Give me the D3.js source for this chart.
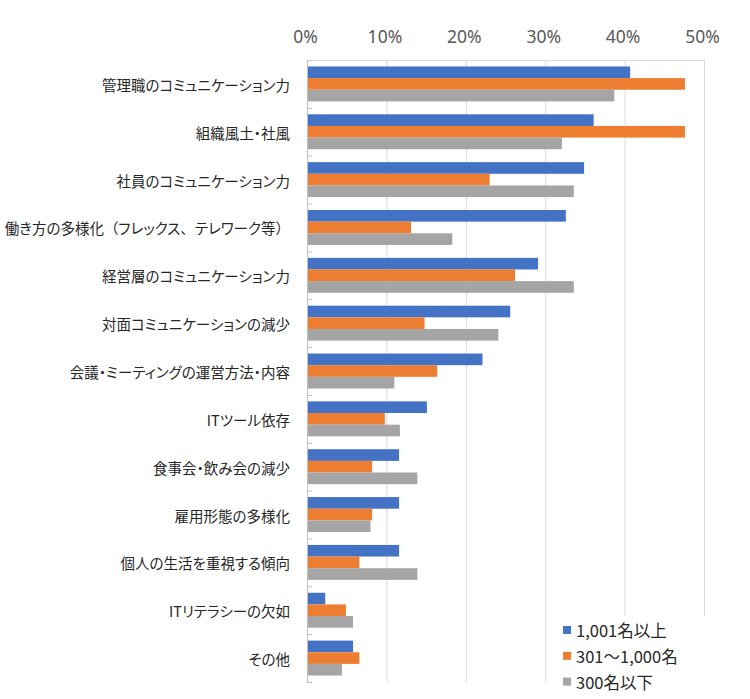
<!DOCTYPE html>
<html><head><meta charset="utf-8">
<script src="https://cdn.jsdelivr.net/npm/d3@7"></script>
<style>
html,body{margin:0;padding:0;background:#fff;}
text{font-family:"Noto Sans CJK JP","Noto Sans",sans-serif;font-feature-settings:"palt";}
tspan.wide{font-feature-settings:normal;}
</style></head>
<body><svg id="chart" width="750" height="699"></svg>
<script>
const categories = ["管理職のコミュニケーション力","組織風土・社風","社員のコミュニケーション力","働き方の多様化（フレックス、テレワーク等）","経営層のコミュニケーション力","対面コミュニケーションの減少","会議・ミーティングの運営方法・内容","ITツール依存","食事会・飲み会の減少","雇用形態の多様化","個人の生活を重視する傾向","ITリテラシーの欠如","その他"];
const seriesNames = ["1,001名以上","301～1,000名","300名以下"];
const large  = [40.7,36.1,34.9,32.6,29.1,25.6,22.1,15.1,11.6,11.6,11.6,2.3,5.8];
const medium = [47.6,47.6,23.0,13.1,26.2,14.8,16.4,9.8,8.2,8.2,6.6,4.9,6.6];
const small  = [38.7,32.1,33.6,18.3,33.6,24.1,11.0,11.7,13.9,8.0,13.9,5.8,4.4];
const seriesValues = [large, medium, small];
const colors = ["#4472C4","#ED7D31","#A5A5A5"];
const xTicks = [0,10,20,30,40,50];

(function(){
const svg = d3.select("#chart");
const pL = 307, pR = 704, pT = 60, pB = 682;
const x = d3.scaleLinear().domain([0,50]).range([pL,pR]);
const y = d3.scaleBand().domain(categories).range([pT,pB]).paddingInner(0.27).paddingOuter(0.135);
const ys = d3.scaleBand().domain(d3.range(3)).range([0,y.bandwidth()]);
const step = y.step();

svg.append("g").selectAll("line").data(xTicks.slice(1)).join("line")
  .attr("x1",d=>x(d)+0.5).attr("x2",d=>x(d)+0.5).attr("y1",pT).attr("y2",pB)
  .attr("stroke","#D9D9D9").attr("stroke-width",1);
svg.append("line").attr("x1",pL).attr("x2",pR).attr("y1",pT+0.5).attr("y2",pT+0.5).attr("stroke","#D9D9D9");

const xAxis = d3.axisTop(x).tickValues(xTicks).tickFormat(d=>d+"%").tickSize(0).tickPadding(0);
const ga = svg.append("g").attr("transform",`translate(-2,${pT-17})`).call(xAxis);
ga.select(".domain").remove();
ga.selectAll("text").attr("fill","#595959").style("font-size","17.5px").style("font-family","'Noto Sans','DejaVu Sans',sans-serif");

const groups = svg.append("g").selectAll("g").data(seriesValues).join("g").attr("fill",(d,i)=>colors[i]);
groups.each(function(vals, si){
  d3.select(this).selectAll("rect").data(vals).join("rect")
    .attr("x",pL)
    .attr("y",(v,ci)=>y(categories[ci])+ys(si))
    .attr("width",v=>x(v)-pL)
    .attr("height",ys.bandwidth());
});

svg.append("line").attr("x1",pL+0.5).attr("x2",pL+0.5).attr("y1",pT).attr("y2",pB).attr("stroke","#BFBFBF");
svg.append("g").selectAll("line").data(d3.range(categories.length+1)).join("line")
  .attr("x1",pL).attr("x2",pL+5)
  .attr("y1",i=>pT+i*step+0.5).attr("y2",i=>pT+i*step+0.5)
  .attr("stroke","#BFBFBF");

const labels = svg.append("g").selectAll("text").data(categories).join("text")
  .attr("x",290).attr("y",d=>y(d)+y.bandwidth()/2)
  .attr("text-anchor","end").attr("dominant-baseline","central")
  .attr("fill","#262626").style("font-size","14.5px");
labels.each(function(d){
  const parts = d.split(/([（）、])/).filter(s=>s.length);
  d3.select(this).selectAll("tspan").data(parts).join("tspan")
    .attr("class",s=>/^[（）、]$/.test(s)?"wide":null).text(s=>s);
});

const lg = svg.append("g");
lg.append("rect").attr("x",552).attr("y",616).attr("width",170).attr("height",80).attr("fill","#fff");
const li = lg.selectAll("g").data(seriesNames).join("g")
  .attr("transform",(d,i)=>`translate(563,${630+i*25.8})`);
li.append("rect").attr("x",0).attr("y",-4).attr("width",8).attr("height",8).attr("fill",(d,i)=>colors[i]);
li.append("text").attr("x",13).attr("y",0).attr("dominant-baseline","central")
  .attr("fill","#262626").style("font-size","16.5px").text(d=>d);
})();
</script></body></html>
